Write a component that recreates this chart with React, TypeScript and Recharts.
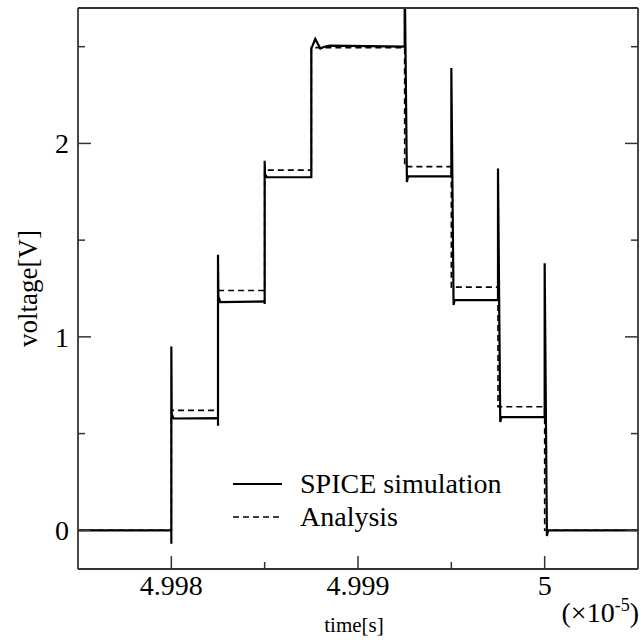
import { LineChart, Line, XAxis, YAxis, Label } from "recharts"

// time axis is in units of 1e-5 s
const spiceTimes = [
  4.9975, 4.998, 4.998, 4.998, 4.998002, 4.998012,
  4.99825, 4.99825, 4.99825, 4.998252, 4.998262,
  4.9985, 4.9985, 4.9985, 4.998502, 4.998512,
  4.99875, 4.99875, 4.998771, 4.998798, 4.99882, 4.99885,
  4.99925, 4.99925, 4.999262, 4.999268,
  4.9995, 4.9995, 4.999512, 4.999518,
  4.99975, 4.99975, 4.999762, 4.999768,
  5.0, 5.0, 5.000012, 5.000018, 5.0005,
]
const spiceVolts = [
  0, 0, -0.07, 0.95, 0.6, 0.578,
  0.58, 0.54, 1.425, 1.21, 1.18,
  1.183, 1.17, 1.91, 1.84, 1.825,
  1.825, 2.49, 2.54, 2.49, 2.5, 2.505,
  2.5, 2.9, 1.8, 1.83,
  1.83, 2.39, 1.165, 1.19,
  1.19, 1.87, 0.56, 0.585,
  0.585, 1.38, -0.03, 0, 0,
]

const analysisTimes = [4.9975, 4.998, 4.99825, 4.9985, 4.99875, 4.99925, 4.9995, 4.99975, 5.0, 5.0005]
const analysisVolts = [0, 0.62, 1.24, 1.862, 2.495, 1.88, 1.257, 0.639, 0, 0]

const seriesNames = ["SPICE simulation", "Analysis"]

const xTicks = [4.998, 4.9985, 4.999, 4.9995, 5]
const xMajorTicks = [4.998, 4.999, 5]
const xTickLabels = ["4.998", "4.999", "5"]
const yTicks = [0, 0.5, 1, 1.5, 2, 2.5]
const yMajorTicks = [0, 1, 2]
const yTickLabels = ["0", "1", "2"]

const spiceData = spiceTimes.map((t, i) => ({ t, v: spiceVolts[i] }))
const analysisData = analysisTimes.map((t, i) => ({ t, v: analysisVolts[i] }))

const font = "Liberation Serif, Times New Roman, serif"
const frame = "#333"

const majorIndex = (list: number[], v: number) => list.findIndex((m) => Math.abs(m - v) < 1e-9)

function BottomTick(props: any) {
  const { x, y, payload } = props
  const i = majorIndex(xMajorTicks, payload.value)
  return (
    <g>
      <line x1={x} x2={x} y1={y} y2={y - (i >= 0 ? 13 : 7)} stroke={frame} strokeWidth={1.5} />
      {i >= 0 && (
        <text x={x} y={y + 26} textAnchor="middle" fontSize={28} fontFamily={font} fill="#000">
          {xTickLabels[i]}
        </text>
      )}
    </g>
  )
}

function TopTick(props: any) {
  const { x, y, payload } = props
  const len = majorIndex(xMajorTicks, payload.value) >= 0 ? 13 : 7
  return <line x1={x} x2={x} y1={y} y2={y + len} stroke={frame} strokeWidth={1.5} />
}

function LeftTick(props: any) {
  const { x, y, payload } = props
  const i = majorIndex(yMajorTicks, payload.value)
  return (
    <g>
      <line x1={x} x2={x + (i >= 0 ? 13 : 7)} y1={y} y2={y} stroke={frame} strokeWidth={1.5} />
      {i >= 0 && (
        <text x={x - 9} y={y} dy="0.35em" textAnchor="end" fontSize={28} fontFamily={font} fill="#000">
          {yTickLabels[i]}
        </text>
      )}
    </g>
  )
}

function RightTick(props: any) {
  const { x, y, payload } = props
  const len = majorIndex(yMajorTicks, payload.value) >= 0 ? 13 : 7
  return <line x1={x} x2={x - len} y1={y} y2={y} stroke={frame} strokeWidth={1.5} />
}

function XTitle(props: any) {
  const { x, y, width } = props.viewBox
  return (
    <text x={x + width / 2 - 4} y={y + 63} textAnchor="middle" fontSize={21} fontFamily={font} fill="#000">
      time[s]
    </text>
  )
}

function YTitle(props: any) {
  const { y, height } = props.viewBox
  const cx = 37
  const cy = y + height / 2
  return (
    <text x={cx} y={cy} transform={`rotate(-90 ${cx} ${cy})`} textAnchor="middle" fontSize={27} fontFamily={font} fill="#000">
      voltage[V]
    </text>
  )
}

export default function App() {
  const axisLine = { stroke: frame, strokeWidth: 1.8 }
  return (
    <div style={{ position: "absolute", left: 0, top: 0, width: 644, height: 640, background: "#fff" }}>
      <LineChart width={644} height={640} margin={{ top: 0, right: 0, bottom: 0, left: 0 }}>
        <XAxis
          dataKey="t"
          type="number"
          domain={[4.9975, 5.0005]}
          allowDataOverflow
          ticks={xTicks}
          height={71}
          tickSize={0}
          tickMargin={0}
          tickLine={false}
          axisLine={axisLine}
          tick={<BottomTick />}
          interval={0}
        >
          <Label content={<XTitle />} />
        </XAxis>
        <XAxis
          xAxisId="top"
          orientation="top"
          type="number"
          domain={[4.9975, 5.0005]}
          allowDataOverflow
          ticks={xTicks}
          height={8}
          tickSize={0}
          tickMargin={0}
          tickLine={false}
          axisLine={axisLine}
          tick={<TopTick />}
          interval={0}
        />
        <YAxis
          type="number"
          domain={[-0.2, 2.7]}
          allowDataOverflow
          ticks={yTicks}
          width={78}
          tickSize={0}
          tickMargin={0}
          tickLine={false}
          axisLine={axisLine}
          tick={<LeftTick />}
          interval={0}
        >
          <Label content={<YTitle />} />
        </YAxis>
        <YAxis
          yAxisId="right"
          orientation="right"
          type="number"
          domain={[-0.2, 2.7]}
          allowDataOverflow
          ticks={yTicks}
          width={6}
          tickSize={0}
          tickMargin={0}
          tickLine={false}
          axisLine={axisLine}
          tick={<RightTick />}
          interval={0}
        />
        <Line
          data={analysisData}
          dataKey="v"
          name={seriesNames[1]}
          type="stepAfter"
          stroke="#000"
          strokeWidth={1.6}
          strokeDasharray="6 4"
          dot={false}
          activeDot={false}
          isAnimationActive={false}
        />
        <Line
          data={spiceData}
          dataKey="v"
          name={seriesNames[0]}
          type="linear"
          stroke="#000"
          strokeWidth={2.2}
          dot={false}
          activeDot={false}
          isAnimationActive={false}
        />
      </LineChart>

      {seriesNames.map((name, i) => (
        <div
          key={name}
          style={{
            position: "absolute",
            left: 233,
            top: 467 + i * 33,
            height: 34,
            display: "flex",
            alignItems: "center",
            fontFamily: font,
            fontSize: 28,
            lineHeight: "34px",
            whiteSpace: "nowrap",
          }}
        >
          <svg width={49} height={4} style={{ display: "block" }}>
            <line x1={0} x2={49} y1={2} y2={2} stroke="#000" strokeWidth={i === 0 ? 2 : 1.6} strokeDasharray={i === 0 ? undefined : "6 4"} />
          </svg>
          <span style={{ marginLeft: 18 }}>{name}</span>
        </div>
      ))}

      <div
        style={{
          position: "absolute",
          right: 5,
          top: 598,
          fontFamily: font,
          fontSize: 28,
          lineHeight: "30px",
          whiteSpace: "nowrap",
        }}
      >
        (×10<sup style={{ fontSize: 18, verticalAlign: "11px", lineHeight: 0 }}>-5</sup>)
      </div>
    </div>
  )
}
